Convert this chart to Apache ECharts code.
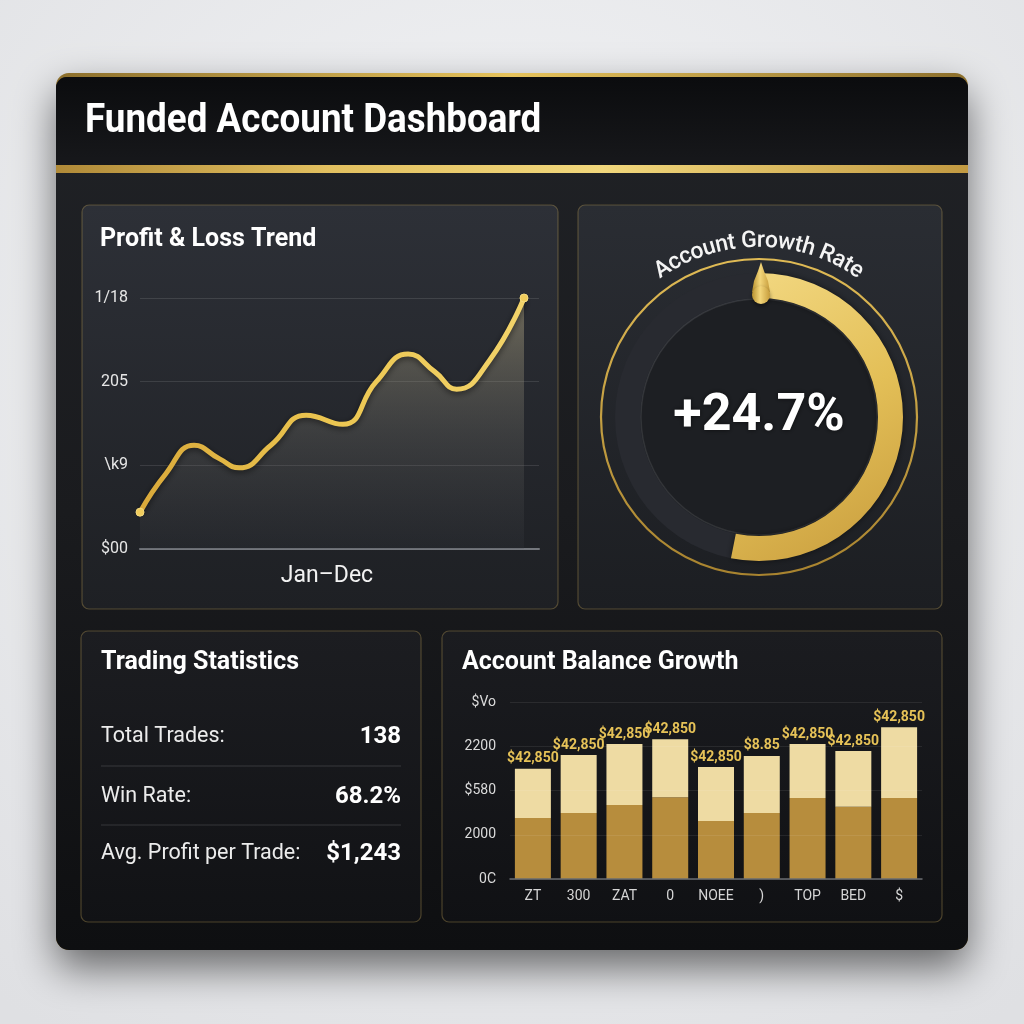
<!DOCTYPE html>
<html>
<head>
<meta charset="utf-8">
<script src="https://cdn.jsdelivr.net/npm/echarts@6/dist/echarts.min.js"></script>
<style>
html,body{margin:0;padding:0;background:#e9eaec;}
#chart{width:1024px;height:1024px;}
</style>
</head>
<body>
<div id="chart"></div>
<script>
// ---------- data ----------
const dashboardTitle = 'Funded Account Dashboard';

const pnlTitle = 'Profit & Loss Trend';
const pnlAxisName = 'Jan–Dec';
// month position (0 = Jan, 11 = Dec) of each read point, and the P&L value there
const pnlMonths = [0, 0.74, 1.55, 2.27, 2.84, 3.75, 4.76, 5.81, 6.77, 7.68, 8.44, 9.07, 10.02, 11];
const pnlValues = [44, 90, 124, 108, 97, 124, 160, 149, 200, 233, 212, 191, 226, 300];
const pnlTickLabels = ['$00', '\\k9', '205', '1/18'];

const growthTitle = 'Account Growth Rate';
const growthValue = 24.7;
const growthScaleMax = 46.5;

const statsTitle = 'Trading Statistics';
const statsLabels = ['Total Trades:', 'Win Rate:', 'Avg. Profit per Trade:'];
const statsValues = ['138', '68.2%', '$1,243'];

const balanceTitle = 'Account Balance Growth';
const balanceCats = ['ZT', '300', 'ZAT', '0', 'NOEE', ')', 'TOP', 'BED', '$'];
const balanceBase = [1380, 1490, 1670, 1850, 1310, 1490, 1830, 1630, 1830];
const balanceUpper = [1110, 1310, 1380, 1310, 1220, 1290, 1220, 1260, 1600];
const balanceLabels = ['$42,850', '$42,850', '$42,850', '$42,850', '$42,850', '$8.85', '$42,850', '$42,850', '$42,850'];
const balanceTickLabels = ['0C', '2000', '$580', '2200', '$Vo'];

// ---------- helpers ----------
const FONT = 'Roboto, "Noto Sans", sans-serif';
const G = echarts.graphic;
function lin(x0, y0, x1, y1, stops) {
  return new G.LinearGradient(x0, y0, x1, y1, stops.map((c) => ({offset: c[0], color: c[1]})));
}
function txt(x, y, text, size, weight, color, align, extra) {
  return Object.assign({
    type: 'text', x: x, y: y, z: 50,
    style: {text: text, fill: color || '#ffffff', fontSize: size, fontWeight: weight || 'normal',
      fontFamily: FONT, align: align || 'left', verticalAlign: 'middle',
      shadowColor: 'rgba(0,0,0,0.6)', shadowBlur: 4, shadowOffsetY: 1}
  }, extra || {});
}
function panel(x, y, w, h, fill) {
  return {type: 'rect', z: 1, shape: {x: x, y: y, width: w, height: h, r: 7},
    style: {fill: fill, stroke: 'rgba(190,160,90,0.35)', lineWidth: 1.2}};
}

const graphics = [];
graphics.push({type: 'rect', z: 0, shape: {x: 56, y: 73, width: 912, height: 877, r: 13},
  style: {fill: lin(0, 0, 1, 0, [[0, '#8c6f2c'], [0.5, '#e6c35c'], [1, '#8c6f2c']]),
    shadowColor: 'rgba(0,0,0,0.55)', shadowBlur: 40, shadowOffsetY: 18}});
graphics.push({type: 'rect', z: 0, shape: {x: 56, y: 77, width: 912, height: 873, r: [11, 11, 13, 13]},
  style: {fill: lin(0, 0, 0, 1, [[0, '#202226'], [0.5, '#1a1b1e'], [1, '#0e0f11']])}});
graphics.push({type: 'rect', z: 0, shape: {x: 56, y: 77, width: 912, height: 89, r: [11, 11, 0, 0]},
  style: {fill: lin(0, 0, 0, 1, [[0, '#0b0c0e'], [1, '#17181b']])}});
graphics.push({type: 'rect', z: 0, shape: {x: 56, y: 165, width: 912, height: 8},
  style: {fill: lin(0, 0, 1, 0, [[0, '#b08a38'], [0.3, '#e2c060'], [0.6, '#f1d77c'], [1, '#c29a42']])}});
graphics.push(txt(85, 122, dashboardTitle, 40, 'bold', '#ffffff', 'left', {scaleX: 0.92}));

graphics.push(panel(82, 205, 476, 404, lin(0, 0, 0, 1, [[0, '#2d3037'], [1, '#1e2024']])));
graphics.push(panel(578, 205, 364, 404, lin(0, 0, 0, 1, [[0, '#2a2d33'], [1, '#1c1e22']])));
graphics.push(panel(81, 631, 340, 291, lin(0, 0, 0, 1, [[0, '#1c1d21'], [1, '#111215']])));
graphics.push(panel(442, 631, 500, 291, lin(0, 0, 0, 1, [[0, '#1b1c20'], [1, '#101114']])));

graphics.push(txt(100, 240, pnlTitle, 25, 'bold'));
graphics.push(txt(327, 576, pnlAxisName, 23, 'normal', '#f2f2f2', 'center'));
graphics.push(txt(101, 663, statsTitle, 25, 'bold'));
graphics.push(txt(462, 663, balanceTitle, 25, 'bold'));

const rowY = [737, 797, 854];
statsLabels.forEach((l, i) => {
  graphics.push(txt(101, rowY[i], l, 21.5, 'normal', '#ececec'));
  graphics.push(txt(401, rowY[i], statsValues[i], 24, 'bold', '#ffffff', 'right'));
});
[766, 825].forEach(y => graphics.push({type: 'line', z: 2, shape: {x1: 101, y1: y, x2: 401, y2: y},
  style: {stroke: 'rgba(255,255,255,0.14)', lineWidth: 1}}));

// gauge decorations
const gcx = 759, gcy = 417;
graphics.push({type: 'circle', z: 1, shape: {cx: gcx, cy: gcy, r: 158},
  style: {fill: 'none', stroke: lin(0, 0, 0, 1, [[0, '#e0bb55'], [1, '#a8832f']]), lineWidth: 2.2}});
graphics.push({type: 'circle', z: 1, shape: {cx: gcx, cy: gcy, r: 118},
  style: {fill: '#1d1f23', stroke: 'rgba(255,255,255,0.09)', lineWidth: 1.5}});
const dropFill = lin(0, 0, 1, 0, [[0, '#b8912f'], [0.45, '#f3d67a'], [1, '#c79d3c']]);
graphics.push({type: 'polygon', z: 100,
  shape: {points: [[761, 262], [764, 271], [768, 281], [770, 292], [752, 292], [754, 281], [758, 271]]},
  style: {fill: dropFill}});
graphics.push({type: 'circle', z: 100, shape: {cx: 761, cy: 295, r: 9},
  style: {fill: dropFill, shadowColor: 'rgba(0,0,0,0.45)', shadowBlur: 4, shadowOffsetY: 2}});

// curved title
(function () {
  const size = 23;
  const ctx = document.createElement('canvas').getContext('2d');
  ctx.font = '500 ' + size + 'px Roboto';
  const chars = growthTitle.split('');
  const widths = chars.map(c => ctx.measureText(c).width);
  const W = widths.reduce((a, b) => a + b, 0);
  const r = 176;
  const L = 1.22 * r;
  const extra = Math.max(0, (L - W) / (chars.length - 1));
  const total = W + extra * (chars.length - 1);
  let pos = -total / 2;
  chars.forEach((c, i) => {
    const mid = pos + widths[i] / 2;
    const th = mid / r;
    graphics.push({type: 'text', z: 50, x: gcx + r * Math.sin(th), y: gcy - r * Math.cos(th), rotation: -th,
      style: {text: c, fill: '#f4f4f4', fontSize: size, fontWeight: 500, fontFamily: FONT,
        align: 'center', verticalAlign: 'middle', shadowColor: 'rgba(0,0,0,0.6)', shadowBlur: 3}});
    pos += widths[i] + extra;
  });
})();

// ---------- chart ----------
const chart = echarts.init(document.getElementById('chart'), null, {renderer: 'canvas'});
const pnlData = pnlMonths.map((m, i) => {
  const end = (i === 0 || i === pnlMonths.length - 1);
  return end ? {value: [m, pnlValues[i]], symbol: 'circle', symbolSize: 8} : {value: [m, pnlValues[i]], symbol: 'none'};
});

chart.setOption({
  animation: false,
  backgroundColor: {type: 'radial', x: 0.5, y: 0.35, r: 0.8,
    colorStops: [{offset: 0, color: '#f3f4f6'}, {offset: 1, color: '#dfe0e3'}]},
  graphic: {elements: graphics},
  grid: [
    {left: 140, right: 485, top: 298, bottom: 475},
    {left: 510, right: 102, top: 702, bottom: 145}
  ],
  xAxis: [
    {type: 'value', gridIndex: 0, z: 3, min: 0, max: 11.43, axisLabel: {show: false}, axisTick: {show: false},
      splitLine: {show: false}, axisLine: {show: true, lineStyle: {color: '#74777d', width: 2}}},
    {type: 'category', gridIndex: 1, z: 3, data: balanceCats, axisTick: {show: false},
      axisLine: {lineStyle: {color: '#6a6c70', width: 1.5}},
      axisLabel: {color: '#d6d6d6', fontSize: 14, fontFamily: FONT, margin: 10, interval: 0}}
  ],
  yAxis: [
    {type: 'value', gridIndex: 0, z: 3, min: 0, max: 300, interval: 100,
      axisLabel: {color: '#e6e6e6', fontSize: 16, fontFamily: FONT, margin: 12,
        formatter: v => pnlTickLabels[Math.round(v / 100)]},
      axisLine: {show: false}, axisTick: {show: false},
      splitLine: {lineStyle: {color: 'rgba(255,255,255,0.11)', width: 1}}},
    {type: 'value', gridIndex: 1, z: 3, min: 0, max: 4000, interval: 1000,
      axisLabel: {color: '#dadada', fontSize: 14, fontFamily: FONT, margin: 14,
        formatter: v => balanceTickLabels[Math.round(v / 1000)]},
      axisLine: {show: false}, axisTick: {show: false},
      splitLine: {lineStyle: {color: 'rgba(255,255,255,0.08)', width: 1}}}
  ],
  series: [
    {
      type: 'line', xAxisIndex: 0, yAxisIndex: 0, data: pnlData, smooth: 0.5, z: 5,
      lineStyle: {width: 5, color: lin(0, 0, 1, 0, [[0, '#d9a93a'], [0.5, '#ecc651'], [1, '#f2d36a']]),
        shadowColor: 'rgba(0,0,0,0.55)', shadowBlur: 6, shadowOffsetY: 2},
      itemStyle: {color: '#f0cc5c', borderColor: '#f6dc80', borderWidth: 1},
      areaStyle: {color: lin(0, 0, 0, 1, [[0, 'rgba(200,186,142,0.62)'], [0.55, 'rgba(130,128,118,0.35)'], [1, 'rgba(60,63,70,0.25)']])}
    },
    {
      type: 'bar', xAxisIndex: 1, yAxisIndex: 1, stack: 'bal', data: balanceBase, barWidth: 36,
      itemStyle: {color: '#b78d3d'}
    },
    {
      type: 'bar', xAxisIndex: 1, yAxisIndex: 1, stack: 'bal', data: balanceUpper, barWidth: 36,
      itemStyle: {color: '#eedba3'},
      label: {show: true, position: 'top', distance: 3, color: '#e6c257', fontSize: 14, fontWeight: 'bold',
        fontFamily: FONT, formatter: p => balanceLabels[p.dataIndex]}
    },
    {
      type: 'gauge', center: [gcx, gcy], radius: 144, startAngle: 90, endAngle: -270,
      min: 0, max: growthScaleMax, z: 3,
      progress: {show: true, width: 25, itemStyle: {color: lin(0, 0, 1, 1, [[0, '#f3d983'], [0.5, '#e3bf57'], [1, '#c79b3c']]),
        shadowColor: 'rgba(0,0,0,0.5)', shadowBlur: 6}},
      axisLine: {lineStyle: {width: 25, color: [[1, '#282a30']]}},
      pointer: {show: false}, anchor: {show: false}, axisTick: {show: false}, splitLine: {show: false},
      axisLabel: {show: false}, title: {show: false},
      detail: {offsetCenter: [0, 0], color: '#ffffff', fontSize: 52, fontWeight: 'bold', fontFamily: FONT,
        formatter: v => '+' + v.toFixed(1) + '%', textShadowColor: 'rgba(0,0,0,0.6)', textShadowBlur: 5},
      data: [{value: growthValue}]
    }
  ]
});
</script>
</body>
</html>
